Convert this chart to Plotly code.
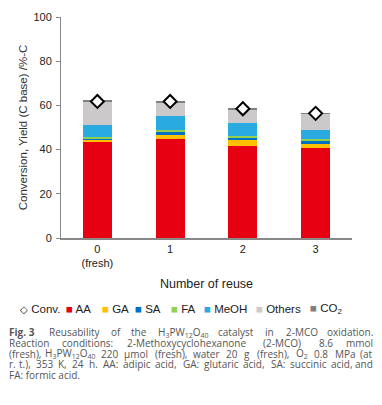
import re
import plotly.graph_objects as go

categories = [0, 1, 2, 3]
tick_labels = ["0<br>(fresh)", "1", "2", "3"]
conv = [61.8, 61.8, 58.5, 56.4]
aa = [43.6, 44.6, 41.6, 40.6]
ga = [1.0, 2.4, 3.0, 2.2]
sa = [0.4, 0.8, 0.8, 0.9]
fa = [0.5, 1.1, 0.9, 1.1]
meoh = [5.8, 6.1, 5.9, 4.1]
others = [10.4, 6.5, 6.0, 7.3]
co2 = [0.3, 0.3, 0.3, 0.3]

series = [
    ("AA", aa, "#E60012"),
    ("GA", ga, "#FFC000"),
    ("SA", sa, "#0070C0"),
    ("FA", fa, "#92D050"),
    ("MeOH", meoh, "#29ABE2"),
    ("Others", others, "#CBC9C9"),
    ("CO<sub>2</sub>", co2, "#808080"),
]

# page body margin of the html page (figure drawn 8px from top-left)
OFF = 8
FIG_W, FIG_H = 382 - OFF, 405 - OFF
# plot area in reference pixels: x 61..352, y 17..238
L, T, W, H = 61 - OFF, 17 - OFF, 291, 221


def px(xp):
    return (xp - OFF - L) / W


def py(yp):
    return (T + H - (yp - OFF)) / H


fig = go.Figure()
for name, vals, col in series:
    fig.add_trace(go.Bar(x=categories, y=vals, name=name, width=0.4,
                         marker=dict(color=col, line=dict(width=0))))
fig.add_trace(go.Scatter(
    x=categories, y=conv, mode="markers", name="Conv.",
    marker=dict(symbol="diamond", size=10, color="white",
                line=dict(color="black", width=2)),
))

FONT = "Liberation Sans"
fig.update_layout(
    width=FIG_W, height=FIG_H,
    margin=dict(l=L, r=FIG_W - L - W, t=T, b=FIG_H - T - H),
    barmode="stack",
    plot_bgcolor="white", paper_bgcolor="white",
    font=dict(family=FONT, size=11, color="#333333"),
    showlegend=False,
)

fig.update_xaxes(
    range=[-0.5, 3.5], tickmode="array", tickvals=categories, ticktext=tick_labels,
    showline=True, linecolor="#888888", linewidth=1.5, ticks="",
    showgrid=False, zeroline=False, automargin=False,
    tickfont=dict(family=FONT, size=11, color="#222222"),
    title=dict(text="Number of reuse", font=dict(family=FONT, size=12.5, color="#222222"), standoff=11),
)
fig.update_yaxes(
    range=[0, 100], dtick=20, showline=True, linecolor="#888888", linewidth=1,
    ticks="outside", ticklen=4, tickcolor="#888888", showgrid=False, zeroline=False,
    automargin=False, ticklabelstandoff=2,
    tickfont=dict(family=FONT, size=11, color="#222222"),
    title=dict(text="Conversion, Yield (C base) /%-C",
               font=dict(family=FONT, size=11.5, color="#333333"), standoff=3),
)

# legend row (real text)
legend_items = [
    (18, '<span style="font-size:10px">◇</span> Conv.'),
    (64, '<span style="color:#E60012">■</span> AA'),
    (100, '<span style="color:#FFC000">■</span> GA'),
    (133, '<span style="color:#0070C0">■</span> SA'),
    (169, '<span style="color:#92D050">■</span> FA'),
    (202, '<span style="color:#29ABE2">■</span> MeOH'),
    (254, '<span style="color:#CBC9C9">■</span> Others'),
    (308, '<span style="color:#808080">■</span> CO<sub>2</sub>'),
]
for xp, txt in legend_items:
    fig.add_annotation(text=txt, xref="paper", yref="paper", showarrow=False,
                       x=px(xp), y=py(309), xanchor="left", yanchor="middle",
                       font=dict(family=FONT, size=11.5, color="#222222"))

# ---- caption (justified by placing words) ----
CAP_SIZE = 10
CAP_LEFT, CAP_RIGHT = 7, 375
W_EM = {}
for c in "ijl.,:;'|I": W_EM[c] = 0.26
for c in "ftr()[]-": W_EM[c] = 0.35
for c in "sczJ": W_EM[c] = 0.48
for c in "vyxk": W_EM[c] = 0.5
for c in "0123456789": W_EM[c] = 0.57
W_EM["m"] = 0.86
W_EM["w"] = 0.76
for c in "OQGDCH": W_EM[c] = 0.76
W_EM["M"] = 0.9
W_EM["μ"] = 0.6


def word_width(word):
    sub = re.findall(r"<sub>(.*?)</sub>", word)
    bold = "<b>" in word
    plain = re.sub(r"<sub>.*?</sub>", "", word)
    plain = re.sub(r"<.*?>", "", plain)
    w = 0.0
    for c in plain:
        w += W_EM.get(c, 0.64 if c.isupper() else 0.56)
    for s in sub:
        for c in s:
            w += 0.7 * W_EM.get(c, 0.56)
    if bold:
        w *= 1.08
    return w * CAP_SIZE


caption_lines = [
    ["<b>Fig. 3</b>", "Reusability", "of", "the",
     "H<sub>3</sub>PW<sub>12</sub>O<sub>40</sub>", "catalyst", "in", "2-MCO", "oxidation."],
    ["Reaction", "conditions:", "2-Methoxycyclohexanone", "(2-MCO)", "8.6", "mmol"],
    ["(fresh),", "H<sub>3</sub>PW<sub>12</sub>O<sub>40</sub>", "220", "μmol", "(fresh),",
     "water", "20", "g", "(fresh),", "O<sub>2</sub>", "0.8", "MPa", "(at"],
    ["r.", "t.),", "353", "K,", "24", "h.", "AA:", "adipic", "acid,", "GA:", "glutaric",
     "acid,", "SA:", "succinic", "acid,", "and"],
]
caption_last = "FA: formic acid."
CAP_FONT = dict(family="Open Sans", size=CAP_SIZE, color="#555555")

for i, words in enumerate(caption_lines):
    yl = py(332 + 10.8 * i)
    widths = [word_width(w) for w in words]
    gap = (CAP_RIGHT - CAP_LEFT - sum(widths)) / (len(words) - 1)
    x = CAP_LEFT
    for j, (w, wd) in enumerate(zip(words, widths)):
        if j == 0:
            xa, xpos = "left", x
        elif j == len(words) - 1:
            xa, xpos = "right", CAP_RIGHT
        else:
            xa, xpos = "center", x + wd / 2
        fig.add_annotation(text=w, xref="paper", yref="paper", showarrow=False,
                           x=px(xpos), y=yl, xanchor=xa, yanchor="middle",
                           font=CAP_FONT)
        x += wd + gap

fig.add_annotation(text=caption_last, xref="paper", yref="paper", showarrow=False,
                   x=px(CAP_LEFT), y=py(332 + 10.8 * 4), xanchor="left", yanchor="middle",
                   font=CAP_FONT)

fig.write_html("out.html")
